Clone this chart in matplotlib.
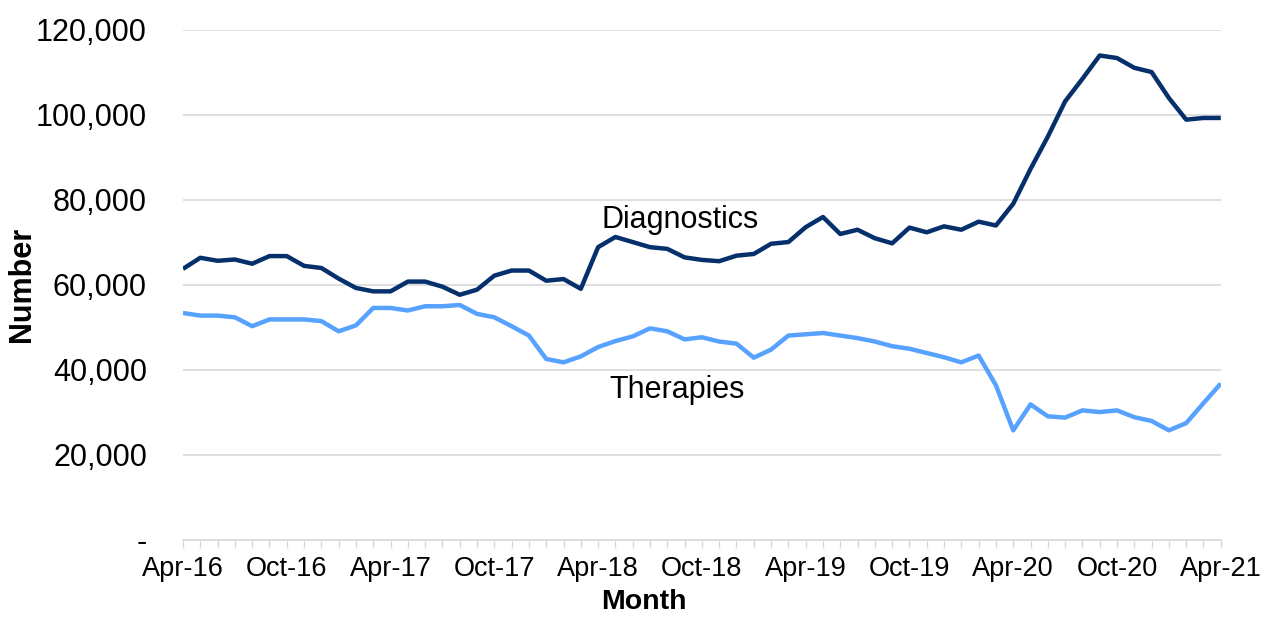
import numpy as np
import pandas as pd
import matplotlib
matplotlib.use("Agg")
import matplotlib.pyplot as plt
from matplotlib.ticker import FuncFormatter, MultipleLocator

# Data (monthly, Apr-16 to Apr-21)
months = pd.date_range("2016-04-01", periods=61, freq="MS")
diagnostics = [
    63800, 66400, 65700, 66000, 65000, 66800, 66800, 64500, 64000, 61500,
    59300, 58500, 58500, 60800, 60800, 59600, 57700, 58900, 62200, 63400,
    63400, 61000, 61400, 59100, 68900, 71300, 70100, 68900, 68500, 66500,
    65900, 65600, 66900, 67300, 69700, 70100, 73600, 76000, 72000, 73000,
    71000, 69800, 73500, 72400, 73800, 73000, 74900, 74000, 79100, 87300,
    94900, 103200, 108500, 114000, 113400, 111100, 110100, 104000, 98900, 99300,
    99300,
]
therapies = [
    53400, 52800, 52800, 52400, 50300, 51900, 51900, 51900, 51500, 49100,
    50500, 54600, 54600, 54000, 55000, 55000, 55300, 53200, 52400, 50300,
    48100, 42600, 41800, 43200, 45400, 46800, 47900, 49800, 49100, 47200,
    47700, 46700, 46200, 42900, 44800, 48100, 48400, 48700, 48100, 47500,
    46700, 45600, 45000, 44000, 43000, 41800, 43400, 36400, 25800, 31900,
    29100, 28800, 30500, 30100, 30500, 28900, 28000, 25800, 27500, 32200,
    36800,
]

plt.rcParams['font.family'] = ['Liberation Sans', 'DejaVu Sans']

fig = plt.figure(figsize=(12.69, 6.17), dpi=100)
ax = fig.add_axes([0.1442, 0.1248, 0.8178, 0.8266])

x = np.arange(len(months))
ax.plot(x, diagnostics, color='#06306b', lw=3.2, solid_capstyle='butt', zorder=3)
ax.plot(x, therapies, color='#58a2ff', lw=3.2, solid_capstyle='butt', zorder=3)

# series labels
ax.text(24.2, 73300, 'Diagnostics', fontsize=22, ha='left', va='baseline')
ax.text(24.65, 33300, 'Therapies', fontsize=22, ha='left', va='baseline')

ax.set_xlim(0, len(months) - 1)
ax.set_ylim(0, 120000)

# x ticks: a label every six months, a tick every month
major = x[::6]
ax.set_xticks(major)
ax.set_xticklabels([months[i].strftime('%b-%y') for i in major])
ax.xaxis.set_minor_locator(MultipleLocator(1))
ax.tick_params(axis='x', which='both', length=5.5, width=1, color='#d9d9d9',
               labelsize=19.5, pad=6)

ax.yaxis.set_major_locator(MultipleLocator(20000))
ax.yaxis.set_major_formatter(FuncFormatter(lambda v, p: '-' if v == 0 else f'{v:,.0f}'))
ax.tick_params(axis='y', length=0, labelsize=22, pad=26)

ax.grid(axis='y', color='#d9d9d9', lw=1.2)
ax.set_axisbelow(True)
for s in ['top', 'right', 'left']:
    ax.spines[s].set_visible(False)
ax.spines['bottom'].set_color('#d9d9d9')
ax.spines['bottom'].set_linewidth(1.2)

fig.text(0.5075, 0.003, 'Month', fontsize=20.5, fontweight='bold', ha='center', va='bottom')
fig.text(0.0175, 0.5386, 'Number', fontsize=22, fontweight='bold', rotation=90,
         ha='center', va='center')

fig.savefig('out.png', dpi=100)
